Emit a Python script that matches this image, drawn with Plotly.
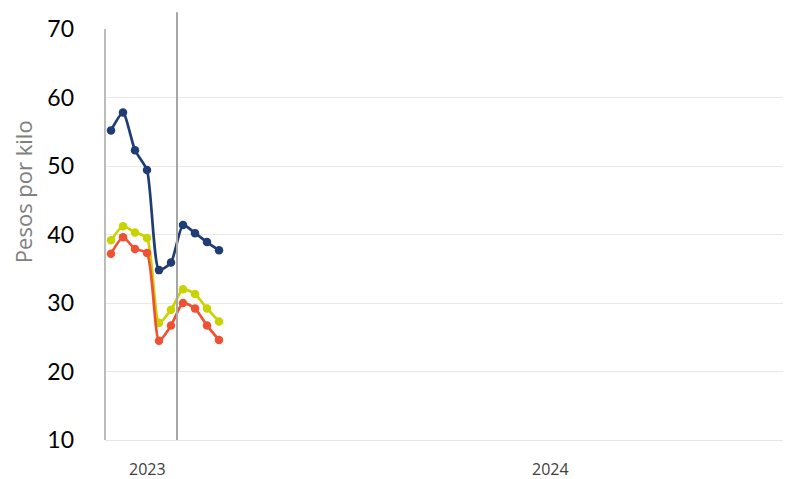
import plotly.graph_objects as go

periods = list(range(10))
blue = [55.2, 57.8, 52.3, 49.4, 34.8, 35.9, 41.4, 40.2, 38.9, 37.7]
yellow = [39.15, 41.2, 40.3, 39.5, 27.1, 29.0, 32.0, 31.3, 29.2, 27.3]
red = [37.2, 39.6, 37.9, 37.3, 24.5, 26.7, 30.0, 29.2, 26.7, 24.6]
year_labels = ["2023", "2024"]
year_positions = [3.0, 36.6]
y_ticks = [10, 20, 30, 40, 50, 60, 70]

fig = go.Figure()
for vals, col in [(blue, "#1F3C74"), (yellow, "#C9D300"), (red, "#EE5233")]:
    fig.add_trace(go.Scatter(
        x=periods, y=vals, mode="lines+markers",
        line=dict(color=col, width=2.7, shape="spline", smoothing=0.6),
        marker=dict(color=col, size=8.5),
        showlegend=False, hoverinfo="skip"))

# year boundary line
fig.add_shape(type="line", xref="x", yref="paper", x0=5.5, x1=5.5, y0=0, y1=1.041,
              line=dict(color="#A6A6A6", width=2))
# left axis line
fig.add_shape(type="line", xref="paper", yref="paper", x0=0, x1=0, y0=0, y1=1,
              line=dict(color="#A6A6A6", width=1.5))

fig.add_annotation(text="Pesos por kilo", xref="paper", yref="paper",
                   x=-0.1197, y=0.603, textangle=-90, showarrow=False,
                   xanchor="center", yanchor="middle",
                   font=dict(family="Open Sans", size=22, color="#808080"))

for lab, pos in zip(year_labels, year_positions):
    fig.add_annotation(text=lab, xref="x", yref="paper", x=pos, y=-0.0706,
                       showarrow=False, xanchor="center", yanchor="middle",
                       font=dict(family="Open Sans", size=16, color="#404040"))

fig.update_xaxes(range=[-0.5, 56.58], showgrid=False, zeroline=False,
                 showticklabels=False, ticks="", automargin=False,
                 showline=True, linecolor="#E6E6E6", linewidth=1)
fig.update_yaxes(range=[10, 70], tickvals=y_ticks, showgrid=True,
                 gridcolor="#E8E8E8", gridwidth=1, zeroline=False,
                 tickfont=dict(family="Lato", size=23, color="#000000"),
                 ticklabelstandoff=30, showline=False, automargin=False)

fig.update_layout(width=783, height=471, margin=dict(l=97, r=1, t=21, b=39),
                  plot_bgcolor="white", paper_bgcolor="white")
fig.write_html("out.html")
